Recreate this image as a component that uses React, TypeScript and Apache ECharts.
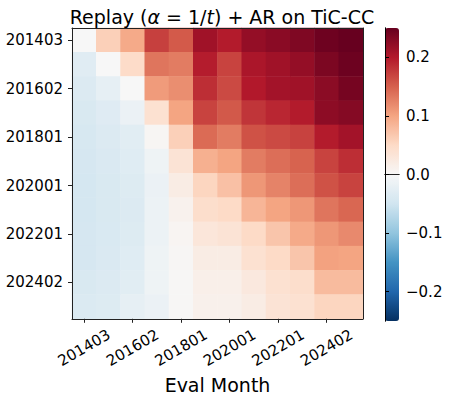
import React, { useEffect, useRef } from "react";
import * as echarts from "echarts";

// Train months (rows, top to bottom) and eval months (columns, left to right)
const trainMonths = ["201403", "201502", "201602", "201702", "201801", "201901", "202001", "202101", "202201", "202301", "202402", "202501"];
const evalMonths = ["201403", "201502", "201602", "201702", "201801", "201901", "202001", "202101", "202201", "202301", "202402", "202501"];

// Colorbar tick labels
const colorbarTicks = [-0.2, -0.1, 0, 0.1, 0.2];

// Cell values, one array per train month row
const row201403 = [0.0, 0.06, 0.095, 0.172, 0.154, 0.212, 0.198, 0.22, 0.227, 0.234, 0.245, 0.25];
const row201502 = [-0.03, 0.0, 0.048, 0.135, 0.13, 0.197, 0.17, 0.205, 0.212, 0.22, 0.236, 0.246];
const row201602 = [-0.035, -0.022, 0.0, 0.107, 0.117, 0.185, 0.165, 0.2, 0.21, 0.212, 0.226, 0.24];
const row201702 = [-0.04, -0.032, -0.016, 0.04, 0.1, 0.17, 0.155, 0.18, 0.19, 0.198, 0.225, 0.23];
const row201801 = [-0.042, -0.036, -0.029, 0.004, 0.06, 0.142, 0.13, 0.16, 0.165, 0.171, 0.198, 0.21];
const row201901 = [-0.044, -0.038, -0.031, -0.012, 0.035, 0.09, 0.1, 0.13, 0.14, 0.148, 0.17, 0.185];
const row202001 = [-0.045, -0.04, -0.034, -0.016, 0.02, 0.055, 0.075, 0.11, 0.125, 0.14, 0.16, 0.17];
const row202101 = [-0.045, -0.04, -0.035, -0.015, 0.01, 0.045, 0.05, 0.085, 0.1, 0.11, 0.135, 0.145];
const row202201 = [-0.044, -0.039, -0.034, -0.014, 0.005, 0.03, 0.035, 0.05, 0.07, 0.095, 0.11, 0.12];
const row202301 = [-0.044, -0.038, -0.031, -0.012, 0.003, 0.02, 0.02, 0.04, 0.05, 0.07, 0.102, 0.1];
const row202402 = [-0.04, -0.036, -0.029, -0.012, 0.002, 0.015, 0.015, 0.026, 0.04, 0.045, 0.08, 0.08];
const row202501 = [-0.037, -0.034, -0.023, -0.016, 0.002, 0.012, 0.012, 0.02, 0.035, 0.04, 0.055, 0.055];

const rows = [row201403, row201502, row201602, row201702, row201801, row201901, row202001, row202101, row202201, row202301, row202402, row202501];

const RDBU_R = ["#053061", "#2166ac", "#4393c3", "#92c5de", "#d1e5f0", "#f7f7f7", "#fddbc7", "#f4a582", "#d6604d", "#b2182b", "#67001f"];

const FONT = "DejaVu Sans";
const TICK_FS = 15;
const BIG_FS = 19;

export default function App() {
  const ref = useRef<HTMLDivElement>(null);
  useEffect(() => {
    if (!ref.current) return;
    const chart = echarts.init(ref.current, null, { renderer: "svg" });
    const data: [number, number, number][] = [];
    rows.forEach((r, i) => r.forEach((v, j) => data.push([j, i, v])));
    const line = { show: true, lineStyle: { color: "#222", width: 1 } };
    const hidden = { show: false };
    chart.setOption({
      animation: false,
      backgroundColor: "#fff",
      title: {
        text: "Replay ({i|α} = 1/{i|t}) + AR on TiC-CC",
        left: 217,
        top: 2,
        textAlign: "center",
        textStyle: {
          fontFamily: FONT,
          fontSize: BIG_FS,
          fontWeight: "normal",
          color: "#000",
          rich: { i: { fontFamily: FONT, fontSize: BIG_FS, fontStyle: "italic", color: "#000" } },
        },
      },
      grid: [
        { left: 72, top: 28, width: 291, height: 292 },
        { left: 385, top: 28, width: 14, height: 293 },
      ],
      xAxis: [
        {
          type: "category",
          gridIndex: 0,
          data: evalMonths,
          position: "bottom",
          z: 10,
          axisLine: line,
          axisTick: { show: true, interval: 1, alignWithLabel: true, length: 4, lineStyle: { color: "#222" } },
          axisLabel: {
            interval: 1,
            rotate: 30,
            align: "center",
            verticalAlign: "middle",
            margin: 29,
            fontFamily: FONT,
            fontSize: TICK_FS,
            color: "#000",
          },
          splitLine: hidden,
          name: "Eval Month",
          nameLocation: "middle",
          nameGap: 51,
          nameTextStyle: { fontFamily: FONT, fontSize: BIG_FS, color: "#000" },
        },
        {
          type: "category",
          gridIndex: 0,
          data: evalMonths,
          position: "top",
          z: 10,
          axisLine: line,
          axisTick: hidden,
          axisLabel: hidden,
          splitLine: hidden,
        },
        { type: "value", gridIndex: 1, position: "bottom", z: 10, axisLine: line, axisTick: hidden, axisLabel: hidden, splitLine: hidden },
        { type: "value", gridIndex: 1, position: "top", z: 10, axisLine: line, axisTick: hidden, axisLabel: hidden, splitLine: hidden },
      ],
      yAxis: [
        {
          type: "category",
          gridIndex: 0,
          data: trainMonths,
          inverse: true,
          position: "left",
          z: 10,
          axisLine: line,
          axisTick: { show: true, interval: 1, alignWithLabel: true, length: 4, lineStyle: { color: "#222" } },
          axisLabel: { interval: 1, margin: 9, fontFamily: FONT, fontSize: TICK_FS, color: "#000" },
          splitLine: hidden,
        },
        {
          type: "category",
          gridIndex: 0,
          data: trainMonths,
          inverse: true,
          position: "right",
          z: 10,
          axisLine: line,
          axisTick: hidden,
          axisLabel: hidden,
          splitLine: hidden,
        },
        {
          type: "value",
          gridIndex: 1,
          min: -0.25,
          max: 0.25,
          position: "right",
          z: 10,
          axisLine: { show: true, lineStyle: { color: "#000", width: 1 } },
          axisTick: { show: true, length: 4, customValues: colorbarTicks, lineStyle: { color: "#000" } },
          axisLabel: {
            customValues: colorbarTicks,
            margin: 7,
            fontFamily: FONT,
            fontSize: TICK_FS,
            color: "#000",
            formatter: (v: number) => (v < 0 ? "\u2212" : "") + Math.abs(v).toFixed(1),
          },
          splitLine: hidden,
        },
        {
          type: "value",
          gridIndex: 1,
          min: -0.25,
          max: 0.25,
          position: "left",
          z: 10,
          axisLine: { show: true, lineStyle: { color: "#000", width: 1 } },
          axisTick: hidden,
          axisLabel: hidden,
          splitLine: hidden,
        },
      ],
      visualMap: {
        type: "continuous",
        min: -0.25,
        max: 0.25,
        seriesIndex: 0,
        orient: "vertical",
        left: 385,
        top: 28,
        itemWidth: 14,
        itemHeight: 293,
        padding: 0,
        calculable: false,
        hoverLink: false,
        inRange: { color: RDBU_R },
      },
      series: [
        {
          type: "heatmap",
          xAxisIndex: 0,
          yAxisIndex: 0,
          data,
          itemStyle: { borderWidth: 0 },
          emphasis: { disabled: true },
        },
      ],
    });
    return () => chart.dispose();
  }, []);
  return <div ref={ref} style={{ position: "fixed", left: 0, top: 0, width: 450, height: 399 }} />;
}
